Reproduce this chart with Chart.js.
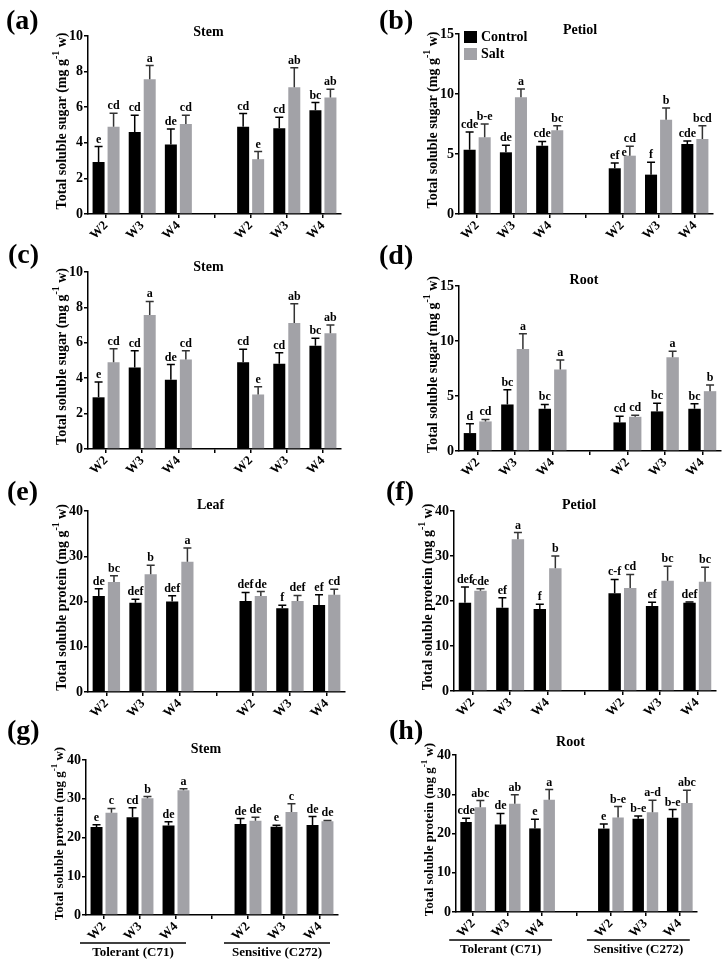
<!DOCTYPE html>
<html>
<head>
<meta charset="utf-8">
<script src="https://cdn.jsdelivr.net/npm/chart.js@4"></script>
<style>
    html, body { margin: 0; padding: 0; background: #fff; }
    #fig { position: relative; width: 728px; height: 964px; overflow: hidden; }
    #fig canvas { position: absolute; }
</style>
</head>
<body>
<div id="fig"></div>
<script>
    // Categories: tolerant W2-W4, spacer, sensitive W2-W4
    const categories = ['W2', 'W3', 'W4', '', 'W2', 'W3', 'W4'];

    // Stem sugar (panels a and c)
    const stemSugarControl = [2.92, 4.6, 3.91, null, 4.9, 4.82, 5.83];
    const stemSugarControlErr = [0.87, 0.95, 0.86, null, 0.74, 0.62, 0.43];
    const stemSugarSalt = [4.9, 7.57, 5.05, null, 3.08, 7.12, 6.54];
    const stemSugarSaltErr = [0.76, 0.77, 0.5, null, 0.43, 1.09, 0.47];
    const stemSugarControlSig = ['e', 'cd', 'de', '', 'cd', 'cd', 'bc'];
    const stemSugarSaltSig = ['cd', 'a', 'cd', '', 'e', 'ab', 'ab'];

    // Petiol sugar (b)
    const petiolSugarControl = [5.36, 5.14, 5.69, null, 3.81, 3.28, 5.83];
    const petiolSugarControlErr = [1.47, 0.58, 0.36, null, 0.44, 1.03, 0.25];
    const petiolSugarSalt = [6.39, 9.72, 6.97, null, 4.86, 7.86, 6.25];
    const petiolSugarSaltErr = [1.11, 0.7, 0.39, null, 0.78, 0.97, 1.11];
    const petiolSugarControlSig = ['cde', 'de', 'cde', '', 'ef', 'f', 'cde'];
    const petiolSugarSaltSig = ['b-e', 'a', 'bc', '', 'cd\ne', 'b', 'bcd'];

    // Root sugar (d)
    const rootSugarControl = [1.63, 4.23, 3.84, null, 2.6, 3.6, 3.84];
    const rootSugarControlErr = [0.85, 1.33, 0.39, null, 0.57, 0.75, 0.45];
    const rootSugarSalt = [2.69, 9.27, 7.4, null, 3.11, 8.52, 5.44];
    const rootSugarSaltErr = [0.18, 1.39, 0.88, null, 0.15, 0.54, 0.57];
    const rootSugarControlSig = ['d', 'bc', 'bc', '', 'cd', 'bc', 'bc'];
    const rootSugarSaltSig = ['cd', 'a', 'a', '', 'cd', 'a', 'b'];

    // Leaf protein (e)
    const leafProteinControl = [21.2, 19.7, 20.0, null, 20.1, 18.5, 19.2];
    const leafProteinControlErr = [1.6, 0.8, 1.25, null, 1.9, 0.65, 2.3];
    const leafProteinSalt = [24.3, 26.0, 28.8, null, 21.2, 20.1, 21.5];
    const leafProteinSaltErr = [1.4, 2.0, 3.0, null, 1.0, 1.25, 1.2];
    const leafProteinControlSig = ['de', 'def', 'def', '', 'def', 'f', 'ef'];
    const leafProteinSaltSig = ['bc', 'b', 'a', '', 'de', 'def', 'cd'];

    // Petiol protein (f)
    const petiolProteinControl = [19.6, 18.5, 18.2, null, 21.7, 18.9, 19.6];
    const petiolProteinControlErr = [3.5, 2.2, 1.1, null, 3.1, 0.8, 0.2];
    const petiolProteinSalt = [22.3, 33.7, 27.3, null, 22.9, 24.5, 24.3];
    const petiolProteinSaltErr = [0.45, 1.5, 2.7, null, 3.0, 3.2, 3.2];
    const petiolProteinControlSig = ['def', 'ef', 'f', '', 'c-f', 'ef', 'def'];
    const petiolProteinSaltSig = ['cde', 'a', 'b', '', 'cd', 'bc', 'bc'];

    // Stem protein (g)
    const stemProteinControl = [22.7, 25.2, 23.1, null, 23.5, 22.75, 23.2];
    const stemProteinControlErr = [0.6, 2.5, 0.95, null, 1.4, 0.4, 2.2];
    const stemProteinSalt = [26.4, 30.1, 32.2, null, 24.3, 26.6, 24.2];
    const stemProteinSaltErr = [1.1, 0.45, 0.35, null, 0.95, 2.1, 0.2];
    const stemProteinControlSig = ['e', 'cd', 'de', '', 'de', 'e', 'de'];
    const stemProteinSaltSig = ['c', 'b', 'a', '', 'de', 'c', 'de'];

    // Root protein (h)
    const rootProteinControl = [22.9, 22.3, 21.3, null, 21.25, 23.75, 24.0];
    const rootProteinControlErr = [1.0, 2.8, 2.3, null, 1.2, 0.7, 2.1];
    const rootProteinSalt = [26.7, 27.6, 28.6, null, 24.1, 25.4, 27.8];
    const rootProteinSaltErr = [1.7, 2.3, 2.6, null, 2.75, 3.1, 3.25];
    const rootProteinControlSig = ['cde', 'de', 'e', '', 'e', 'b-e', 'b-e'];
    const rootProteinSaltSig = ['abc', 'ab', 'a', '', 'b-e', 'a-d', 'abc'];

    const genotypes = ['Tolerant (C71)', 'Sensitive (C272)'];
    const seriesNames = ['Control', 'Salt'];

    const SERIF = '"Liberation Serif", "Times New Roman", serif';
    const BLACK = '#000000';
    const GRAY = '#a2a2a7';

    const sugarTitle = 'Total soluble sugar (mg g';
    const proteinTitle = 'Total soluble protein (mg g';

    // Panel layout: box = canvas [x, y, w, h]; area = plot [left, top, right, bottom]
    const panels = [
        { letter: '(a)', letterPos: [6, 22], title: 'Stem', titleDy: -4, yTitle: sugarTitle, yTitleSize: 14, yMax: 10, step: 2,
          box: [0, 0, 364, 254], area: [88, 36, 341, 214],
          c: stemSugarControl, cErr: stemSugarControlErr, cSig: stemSugarControlSig,
          s: stemSugarSalt, sErr: stemSugarSaltErr, sSig: stemSugarSaltSig },
        { letter: '(b)', letterPos: [379, 22], title: 'Petiol', titleDy: -4, yTitle: sugarTitle, yTitleSize: 14, yMax: 15, step: 5,
          box: [364, 0, 364, 254], area: [459, 34, 713, 214], legend: true,
          c: petiolSugarControl, cErr: petiolSugarControlErr, cSig: petiolSugarControlSig,
          s: petiolSugarSalt, sErr: petiolSugarSaltErr, sSig: petiolSugarSaltSig },
        { letter: '(c)', letterPos: [8, 256], title: 'Stem', titleDy: -5, yTitle: sugarTitle, yTitleSize: 14, yMax: 10, step: 2,
          box: [0, 240, 364, 250], area: [88, 272, 341, 449],
          c: stemSugarControl, cErr: stemSugarControlErr, cSig: stemSugarControlSig,
          s: stemSugarSalt, sErr: stemSugarSaltErr, sSig: stemSugarSaltSig },
        { letter: '(d)', letterPos: [379, 257], title: 'Root', titleDy: -6, yTitle: sugarTitle, yTitleSize: 14, yMax: 15, step: 5,
          box: [364, 240, 364, 252], area: [459, 286, 721, 451],
          c: rootSugarControl, cErr: rootSugarControlErr, cSig: rootSugarControlSig,
          s: rootSugarSalt, sErr: rootSugarSaltErr, sSig: rootSugarSaltSig },
        { letter: '(e)', letterPos: [7, 493], title: 'Leaf', titleDy: -6, yTitle: proteinTitle, yTitleSize: 14, yMax: 40, step: 10,
          box: [0, 480, 364, 252], area: [88, 511, 345, 692],
          c: leafProteinControl, cErr: leafProteinControlErr, cSig: leafProteinControlSig,
          s: leafProteinSalt, sErr: leafProteinSaltErr, sSig: leafProteinSaltSig },
        { letter: '(f)', letterPos: [386, 493], title: 'Petiol', titleDy: -6, yTitle: proteinTitle, yTitleSize: 14, yMax: 40, step: 10,
          box: [364, 480, 364, 252], area: [454, 511, 716, 691],
          c: petiolProteinControl, cErr: petiolProteinControlErr, cSig: petiolProteinControlSig,
          s: petiolProteinSalt, sErr: petiolProteinSaltErr, sSig: petiolProteinSaltSig },
        { letter: '(g)', letterPos: [7, 732], title: 'Stem', titleDy: -11, yTitle: proteinTitle, yTitleSize: 13, yMax: 40, step: 10,
          box: [0, 715, 364, 249], area: [86, 760, 338, 915], groupDy: 28,
          c: stemProteinControl, cErr: stemProteinControlErr, cSig: stemProteinControlSig,
          s: stemProteinSalt, sErr: stemProteinSaltErr, sSig: stemProteinSaltSig },
        { letter: '(h)', letterPos: [389, 732], title: 'Root', titleDy: -13, yTitle: proteinTitle, yTitleSize: 13, yMax: 40, step: 10,
          box: [364, 715, 364, 249], area: [456, 755, 697, 912], groupDy: 28,
          c: rootProteinControl, cErr: rootProteinControlErr, cSig: rootProteinControlSig,
          s: rootProteinSalt, sErr: rootProteinSaltErr, sSig: rootProteinSaltSig }
    ];

    const font = (size) => `bold ${size}px ${SERIF}`;

    // Draws error bars, letters, titles, legend and genotype labels
    const decor = (p) => ({
        id: 'decor',
        afterDatasetsDraw(chart) {
            const ctx = chart.ctx;
            const y = chart.scales.y;
            ctx.save();
            chart.data.datasets.forEach((ds, di) => {
                const meta = chart.getDatasetMeta(di);
                meta.data.forEach((bar, i) => {
                    const v = ds.data[i];
                    if (v == null) return;
                    const top = y.getPixelForValue(v + ds.err[i]);
                    ctx.strokeStyle = ds.whisker;
                    ctx.lineWidth = 1.5;
                    ctx.beginPath();
                    ctx.moveTo(bar.x, bar.y);
                    ctx.lineTo(bar.x, top);
                    ctx.moveTo(bar.x - 4, top);
                    ctx.lineTo(bar.x + 4, top);
                    ctx.stroke();

                    const lines = ds.sig[i].split('\n');
                    ctx.fillStyle = '#000';
                    ctx.font = font(12);
                    ctx.textBaseline = 'alphabetic';
                    ctx.textAlign = 'center';
                    ctx.fillText(lines[0], bar.x, top - 4);
                    if (lines[1]) {
                        ctx.textAlign = 'right';
                        ctx.fillText(lines[1], bar.x - 3, top + 10);
                    }
                });
            });
            ctx.restore();
        },
        afterDraw(chart) {
            const ctx = chart.ctx;
            const area = chart.chartArea;
            const [bx, by] = p.box;
            ctx.save();
            ctx.fillStyle = '#000';

            // panel letter
            ctx.font = font(28);
            ctx.textAlign = 'left';
            ctx.textBaseline = 'middle';
            ctx.fillText(p.letter, p.letterPos[0] - bx, p.letterPos[1] - by);

            // panel title
            ctx.font = font(14);
            ctx.textAlign = 'center';
            ctx.fillText(p.title, (area.left + area.right) / 2 - 6, area.top + p.titleDy);

            // y-axis title with superscript
            const sz = p.yTitleSize;
            ctx.translate(area.left - 26, (area.top + area.bottom) / 2 - 4);
            ctx.rotate(-Math.PI / 2);
            ctx.textAlign = 'left';
            ctx.font = font(sz);
            const w1 = ctx.measureText(p.yTitle).width;
            const w3 = ctx.measureText(' w)').width;
            ctx.font = font(sz * 0.7);
            const w2 = ctx.measureText('-1').width;
            let x0 = -(w1 + w2 + w3) / 2;
            ctx.font = font(sz);
            ctx.fillText(p.yTitle, x0, 0);
            ctx.font = font(sz * 0.7);
            ctx.fillText('-1', x0 + w1, -sz * 0.38);
            ctx.font = font(sz);
            ctx.fillText(' w)', x0 + w1 + w2, 0);
            ctx.setTransform(1, 0, 0, 1, 0, 0);

            // legend
            if (p.legend) {
                chart.data.datasets.forEach((ds, di) => {
                    const ly = area.top - 3 + di * 17;
                    ctx.fillStyle = ds.backgroundColor;
                    ctx.fillRect(area.left + 5, ly, 13, 12);
                    ctx.fillStyle = '#000';
                    ctx.font = font(14);
                    ctx.textAlign = 'left';
                    ctx.textBaseline = 'middle';
                    ctx.fillText(ds.label, area.left + 22, ly + 6.5);
                });
            }

            // genotype group labels
            if (p.groupDy) {
                const x = chart.scales.x;
                [[0, 2], [4, 6]].forEach(([a, b], gi) => {
                    const x1 = x.getPixelForValue(a) - 24;
                    const x2 = x.getPixelForValue(b) + 10;
                    const ly = area.bottom + p.groupDy;
                    ctx.strokeStyle = '#000';
                    ctx.lineWidth = 1.5;
                    ctx.beginPath();
                    ctx.moveTo(x1, ly);
                    ctx.lineTo(x2, ly);
                    ctx.stroke();
                    ctx.font = font(13);
                    ctx.textAlign = 'center';
                    ctx.textBaseline = 'middle';
                    ctx.fillText(genotypes[gi], (x1 + x2) / 2, ly + 10);
                });
            }
            ctx.restore();
        }
    });

    const fig = document.getElementById('fig');

    const axisStyle = {
        grid: { display: true, drawOnChartArea: false, drawTicks: true, tickLength: 4, color: '#000', lineWidth: 1.5, offset: false },
        border: { display: true, color: '#000', width: 1.5 }
    };

    const makePanel = (p) => {
        const [bx, by, bw, bh] = p.box;
        const [L, T, R, B] = p.area;
        const canvas = document.createElement('canvas');
        canvas.width = bw;
        canvas.height = bh;
        canvas.style.left = bx + 'px';
        canvas.style.top = by + 'px';
        canvas.style.width = bw + 'px';
        canvas.style.height = bh + 'px';
        fig.appendChild(canvas);

        return new Chart(canvas, {
            type: 'bar',
            data: {
                labels: categories,
                datasets: [
                    { label: seriesNames[0], data: p.c, err: p.cErr, sig: p.cSig, backgroundColor: BLACK, whisker: '#000' },
                    { label: seriesNames[1], data: p.s, err: p.sErr, sig: p.sSig, backgroundColor: GRAY, whisker: '#333' }
                ]
            },
            options: {
                responsive: false,
                animation: false,
                devicePixelRatio: 1,
                layout: { padding: { left: 0, top: T - by, right: bx + bw - R, bottom: 0 } },
                datasets: { bar: { categoryPercentage: 0.83, barPercentage: 0.8 } },
                plugins: { legend: { display: false }, tooltip: { enabled: false }, title: { display: false } },
                scales: {
                    x: {
                        ...axisStyle,
                        ticks: { color: '#000', font: { family: SERIF, weight: 'bold', size: 13 }, minRotation: 45, maxRotation: 45, autoSkip: false, padding: 0 },
                        afterFit: (s) => { s.height = by + bh - B; }
                    },
                    y: {
                        ...axisStyle,
                        min: 0,
                        max: p.yMax,
                        ticks: { stepSize: p.step, color: '#000', font: { family: SERIF, weight: 'bold', size: 14 }, padding: 1 },
                        afterFit: (s) => { s.width = L - bx; }
                    }
                }
            },
            plugins: [decor(p)]
        });
    };

    panels.forEach(makePanel);
</script>
</body>
</html>
